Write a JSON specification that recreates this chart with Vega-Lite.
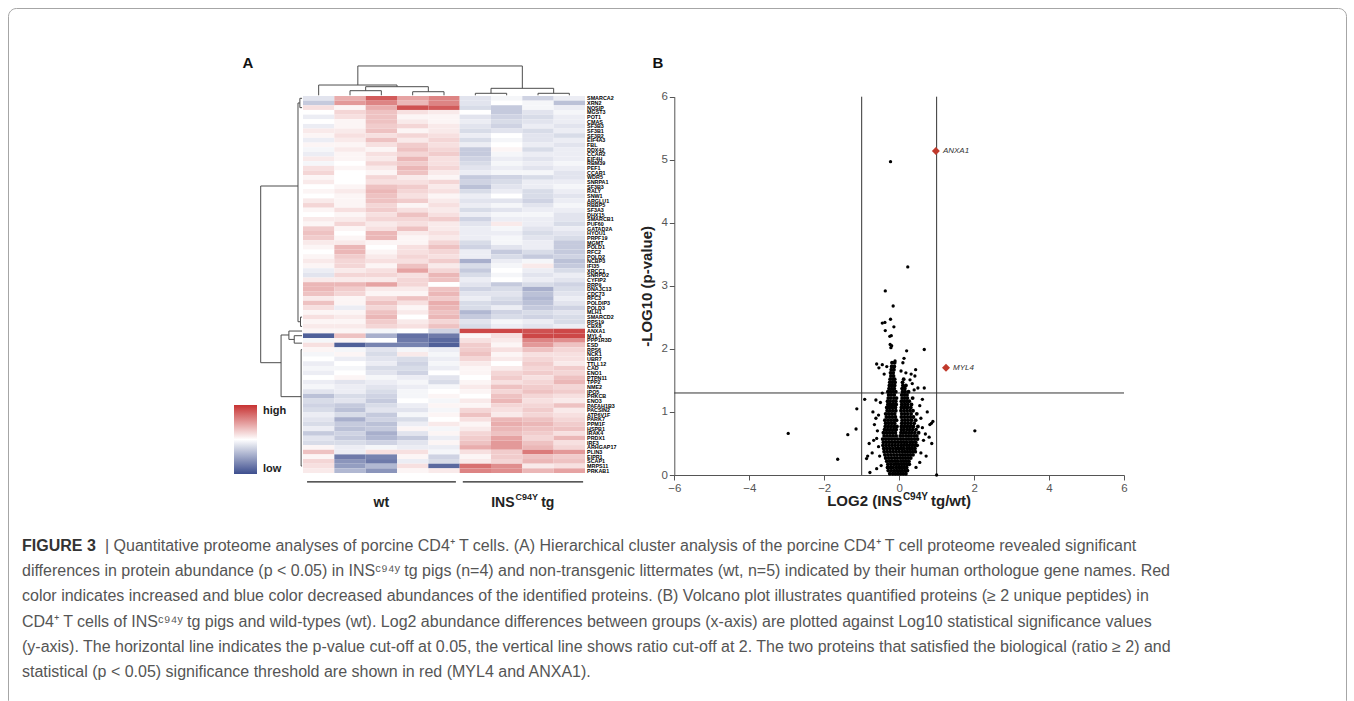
{
"$schema":"https://vega.github.io/schema/vega-lite/v6.json",
"width":1338,"height":700,
"autosize":{"type":"none"},
"padding":{"left":8,"top":8,"right":8,"bottom":0},
"background":"#ffffff",
"config":{"view":{"stroke":"#a6a6a6","strokeWidth":1,"cornerRadius":8},"font":"Liberation Sans"},
"datasets":{
"heat":[
{"r":0,"g":"SMARCA2","c1":-0.15,"c2":0.4,"c3":0.8,"c4":0.45,"c5":0.6,"c6":-0.15,"c7":-0.05,"c8":-0.25,"c9":-0.1},
{"r":1,"g":"XRN2","c1":-0.3,"c2":0.5,"c3":0.6,"c4":0.35,"c5":0.6,"c6":-0.15,"c7":0,"c8":-0.05,"c9":-0.35},
{"r":2,"g":"NOSIP","c1":0.15,"c2":0.05,"c3":0.4,"c4":0.85,"c5":0.8,"c6":-0.2,"c7":-0.3,"c8":-0.05,"c9":-0.1},
{"r":3,"g":"MGST3","c1":0,"c2":0.2,"c3":0.3,"c4":0.15,"c5":0.1,"c6":0,"c7":-0.3,"c8":-0.15,"c9":-0.05},
{"r":4,"g":"POT1","c1":-0.1,"c2":0.15,"c3":0.3,"c4":0.05,"c5":0.05,"c6":-0.15,"c7":-0.25,"c8":-0.2,"c9":-0.1},
{"r":5,"g":"CMAS","c1":0,"c2":0.05,"c3":0.3,"c4":0.1,"c5":0.05,"c6":-0.1,"c7":-0.2,"c8":-0.15,"c9":-0.1},
{"r":6,"g":"SF3B3","c1":-0.1,"c2":0.05,"c3":0.25,"c4":0.2,"c5":0.1,"c6":-0.15,"c7":-0.25,"c8":-0.1,"c9":-0.15},
{"r":7,"g":"SF3B1","c1":0.1,"c2":0.1,"c3":0.3,"c4":0.05,"c5":0.1,"c6":-0.2,"c7":-0.15,"c8":-0.2,"c9":-0.1},
{"r":8,"g":"SF3B2","c1":0.05,"c2":0.15,"c3":0.15,"c4":0.2,"c5":0.15,"c6":-0.1,"c7":0,"c8":-0.15,"c9":-0.2},
{"r":9,"g":"EIF4A3","c1":-0.1,"c2":0.1,"c3":0.3,"c4":0.1,"c5":0.2,"c6":-0.2,"c7":-0.05,"c8":-0.15,"c9":-0.1},
{"r":10,"g":"FBL","c1":0.05,"c2":0.05,"c3":0.15,"c4":0.25,"c5":0.15,"c6":-0.1,"c7":0,"c8":-0.1,"c9":-0.15},
{"r":11,"g":"DDX42","c1":-0.05,"c2":0.1,"c3":0.05,"c4":0.3,"c5":0.2,"c6":-0.3,"c7":0.05,"c8":-0.2,"c9":-0.1},
{"r":12,"g":"CCAR2","c1":-0.1,"c2":0.05,"c3":0.15,"c4":0.2,"c5":0.25,"c6":-0.3,"c7":-0.05,"c8":-0.1,"c9":-0.1},
{"r":13,"g":"EIF4H","c1":0.1,"c2":0.05,"c3":0.1,"c4":0.35,"c5":0.15,"c6":-0.25,"c7":-0.1,"c8":-0.15,"c9":-0.1},
{"r":14,"g":"RBM39","c1":-0.05,"c2":0,"c3":0.2,"c4":0.25,"c5":0.15,"c6":-0.2,"c7":-0.05,"c8":-0.1,"c9":-0.05},
{"r":15,"g":"PEF1","c1":0.15,"c2":0.05,"c3":0.1,"c4":0.35,"c5":0.2,"c6":-0.15,"c7":-0.1,"c8":-0.15,"c9":-0.1},
{"r":16,"g":"CCAR1","c1":0.2,"c2":0,"c3":0.05,"c4":0.3,"c5":0.1,"c6":-0.1,"c7":-0.05,"c8":-0.05,"c9":-0.15},
{"r":17,"g":"WDR5","c1":0.05,"c2":0,"c3":0.2,"c4":0.1,"c5":0.05,"c6":-0.3,"c7":-0.25,"c8":-0.2,"c9":-0.15},
{"r":18,"g":"SNRPA1","c1":0.1,"c2":0,"c3":0.15,"c4":0.15,"c5":0.2,"c6":-0.25,"c7":-0.2,"c8":-0.1,"c9":-0.1},
{"r":19,"g":"SF3B3","c1":0,"c2":0.05,"c3":0.3,"c4":0.25,"c5":0.1,"c6":-0.35,"c7":-0.15,"c8":-0.1,"c9":-0.05},
{"r":20,"g":"RALY","c1":0.05,"c2":0.1,"c3":0.35,"c4":0.2,"c5":0.15,"c6":-0.2,"c7":-0.1,"c8":-0.2,"c9":-0.1},
{"r":21,"g":"SNW1","c1":0,"c2":0.05,"c3":0.3,"c4":0.15,"c5":0.05,"c6":-0.1,"c7":0,"c8":-0.2,"c9":-0.15},
{"r":22,"g":"ARGLU1","c1":0.1,"c2":0.05,"c3":0.3,"c4":0.25,"c5":0.1,"c6":-0.15,"c7":-0.15,"c8":-0.25,"c9":-0.1},
{"r":23,"g":"RBBP5","c1":0.2,"c2":0.05,"c3":0.2,"c4":0.05,"c5":0.15,"c6":-0.1,"c7":-0.05,"c8":-0.15,"c9":-0.05},
{"r":24,"g":"SF3A3","c1":0.05,"c2":0.15,"c3":0.25,"c4":0.15,"c5":0.1,"c6":-0.2,"c7":-0.15,"c8":-0.1,"c9":-0.1},
{"r":25,"g":"DHX15","c1":0,"c2":0.05,"c3":0.15,"c4":0.3,"c5":0.15,"c6":-0.1,"c7":-0.05,"c8":-0.05,"c9":-0.15},
{"r":26,"g":"SMARCB1","c1":0.1,"c2":0.1,"c3":0.2,"c4":0.2,"c5":0.25,"c6":-0.25,"c7":-0.1,"c8":-0.1,"c9":-0.15},
{"r":27,"g":"PUF60","c1":0.05,"c2":0.2,"c3":0.1,"c4":0.15,"c5":0.1,"c6":-0.15,"c7":0.1,"c8":-0.1,"c9":-0.2},
{"r":28,"g":"GATAD2A","c1":0.25,"c2":0.05,"c3":0.15,"c4":0.3,"c5":0.1,"c6":-0.1,"c7":-0.05,"c8":-0.15,"c9":-0.1},
{"r":29,"g":"HYOU1","c1":0.3,"c2":0,"c3":0.35,"c4":0.1,"c5":0.15,"c6":-0.1,"c7":-0.1,"c8":-0.2,"c9":-0.15},
{"r":30,"g":"PRPF19","c1":0.25,"c2":0.05,"c3":0.35,"c4":0.05,"c5":0.1,"c6":-0.1,"c7":-0.05,"c8":-0.15,"c9":-0.2},
{"r":31,"g":"MGMT","c1":0.1,"c2":0.1,"c3":0.05,"c4":0.05,"c5":0.2,"c6":-0.2,"c7":-0.05,"c8":-0.1,"c9":-0.3},
{"r":32,"g":"POLD1","c1":0.05,"c2":0.35,"c3":0,"c4":0.15,"c5":0.3,"c6":-0.25,"c7":-0.15,"c8":-0.1,"c9":-0.3},
{"r":33,"g":"RFC2","c1":0,"c2":0.35,"c3":0.05,"c4":0.15,"c5":0.2,"c6":-0.1,"c7":-0.3,"c8":-0.2,"c9":-0.3},
{"r":34,"g":"POLD2","c1":0.05,"c2":0.25,"c3":0.1,"c4":0.2,"c5":0.15,"c6":-0.1,"c7":-0.2,"c8":-0.3,"c9":-0.25},
{"r":35,"g":"NCBP3","c1":0.1,"c2":0.2,"c3":0.15,"c4":0.15,"c5":0.25,"c6":-0.45,"c7":-0.1,"c8":-0.05,"c9":-0.35},
{"r":36,"g":"IFI35","c1":0.05,"c2":0.2,"c3":0.05,"c4":0.3,"c5":0.1,"c6":-0.2,"c7":-0.05,"c8":0.1,"c9":-0.3},
{"r":37,"g":"XRCC1","c1":-0.1,"c2":0.1,"c3":0.15,"c4":0.45,"c5":0.2,"c6":-0.3,"c7":0,"c8":-0.1,"c9":-0.2},
{"r":38,"g":"SNRPD2","c1":-0.15,"c2":0.2,"c3":0.2,"c4":0.15,"c5":0.35,"c6":-0.2,"c7":-0.05,"c8":-0.15,"c9":-0.1},
{"r":39,"g":"CYFIP2","c1":0.1,"c2":0.1,"c3":0.1,"c4":0.2,"c5":0.3,"c6":-0.1,"c7":0,"c8":-0.1,"c9":-0.15},
{"r":40,"g":"RRP9","c1":0.35,"c2":0.35,"c3":0.45,"c4":0.2,"c5":0,"c6":-0.15,"c7":-0.3,"c8":-0.2,"c9":-0.25},
{"r":41,"g":"DNAJC13","c1":0.35,"c2":0.25,"c3":0.1,"c4":0.1,"c5":0.3,"c6":-0.25,"c7":-0.2,"c8":-0.45,"c9":-0.2},
{"r":42,"g":"CDC73","c1":0.3,"c2":0.2,"c3":0.05,"c4":0.05,"c5":0.35,"c6":-0.15,"c7":-0.15,"c8":-0.35,"c9":-0.15},
{"r":43,"g":"RFC3","c1":0.1,"c2":0.05,"c3":0.2,"c4":0.3,"c5":0.25,"c6":-0.1,"c7":-0.2,"c8":-0.4,"c9":-0.1},
{"r":44,"g":"POLDIP3","c1":0.3,"c2":0.05,"c3":0.3,"c4":0.15,"c5":0.4,"c6":-0.2,"c7":-0.25,"c8":-0.35,"c9":-0.15},
{"r":45,"g":"POLD3","c1":0.15,"c2":-0.1,"c3":0.2,"c4":0.05,"c5":0.35,"c6":-0.2,"c7":-0.1,"c8":-0.3,"c9":-0.25},
{"r":46,"g":"MLH1","c1":0.05,"c2":0.05,"c3":0.3,"c4":0.1,"c5":0.3,"c6":-0.4,"c7":-0.25,"c8":-0.2,"c9":-0.15},
{"r":47,"g":"SMARCD2","c1":0.15,"c2":0.1,"c3":0.35,"c4":0,"c5":0.35,"c6":-0.3,"c7":-0.2,"c8":-0.25,"c9":-0.2},
{"r":48,"g":"RPS19","c1":0.05,"c2":0.05,"c3":0.25,"c4":0.1,"c5":0.2,"c6":-0.15,"c7":-0.05,"c8":-0.1,"c9":-0.2},
{"r":49,"g":"CBX8","c1":0.1,"c2":0.1,"c3":0.2,"c4":0.15,"c5":0.3,"c6":-0.2,"c7":-0.1,"c8":-0.15,"c9":-0.1},
{"r":50,"g":"ANXA1","c1":0.05,"c2":0.05,"c3":-0.05,"c4":0,"c5":-0.25,"c6":0.9,"c7":0.9,"c8":0.85,"c9":0.9},
{"r":51,"g":"MYL4","c1":-0.9,"c2":0.3,"c3":-0.45,"c4":-0.8,"c5":-0.75,"c6":0.05,"c7":0.15,"c8":0.9,"c9":0.9},
{"r":52,"g":"PPP1R3D","c1":-0.05,"c2":0.05,"c3":0,"c4":-0.75,"c5":-0.85,"c6":0.15,"c7":0.1,"c8":0.6,"c9":0.55},
{"r":53,"g":"ESD","c1":0.15,"c2":-0.9,"c3":-0.7,"c4":-0.7,"c5":-0.9,"c6":0.25,"c7":0.05,"c8":0.5,"c9":0.3},
{"r":54,"g":"RPS6","c1":0.05,"c2":-0.05,"c3":-0.15,"c4":-0.05,"c5":-0.1,"c6":0.25,"c7":0.15,"c8":0.3,"c9":0.2},
{"r":55,"g":"NCK1","c1":-0.05,"c2":0.05,"c3":-0.2,"c4":0.1,"c5":-0.05,"c6":0.3,"c7":0.05,"c8":0.15,"c9":0.15},
{"r":56,"g":"UBR7","c1":0,"c2":-0.1,"c3":-0.15,"c4":-0.2,"c5":-0.1,"c6":0.2,"c7":0.1,"c8":0.2,"c9":0.15},
{"r":57,"g":"TTLL12","c1":-0.1,"c2":0,"c3":-0.1,"c4":-0.25,"c5":-0.05,"c6":0.1,"c7":0,"c8":0.25,"c9":0.1},
{"r":58,"g":"CAD","c1":-0.05,"c2":-0.05,"c3":-0.2,"c4":-0.2,"c5":-0.1,"c6":0.05,"c7":0.1,"c8":0.2,"c9":0.25},
{"r":59,"g":"ENO1","c1":-0.1,"c2":0,"c3":-0.15,"c4":-0.25,"c5":0,"c6":0.05,"c7":0.2,"c8":0.25,"c9":0.2},
{"r":60,"g":"PTPN11","c1":0,"c2":0.05,"c3":-0.05,"c4":-0.1,"c5":-0.15,"c6":0,"c7":0.25,"c8":0.15,"c9":0.3},
{"r":61,"g":"TPP2","c1":-0.1,"c2":-0.15,"c3":-0.1,"c4":-0.05,"c5":-0.2,"c6":0.05,"c7":0.15,"c8":0.2,"c9":0.35},
{"r":62,"g":"NME2","c1":-0.05,"c2":-0.1,"c3":-0.15,"c4":-0.1,"c5":-0.05,"c6":0.1,"c7":0.3,"c8":0.25,"c9":0.2},
{"r":63,"g":"IPO5","c1":-0.15,"c2":-0.1,"c3":-0.2,"c4":-0.05,"c5":0,"c6":0.05,"c7":0.2,"c8":0.3,"c9":0.25},
{"r":64,"g":"PRKCB","c1":-0.35,"c2":-0.2,"c3":-0.25,"c4":-0.05,"c5":0.05,"c6":0,"c7":0.3,"c8":0.2,"c9":0.15},
{"r":65,"g":"ENO3","c1":-0.2,"c2":-0.15,"c3":-0.3,"c4":0,"c5":-0.05,"c6":0.1,"c7":0.35,"c8":0.15,"c9":0.1},
{"r":66,"g":"PAFAH1B3","c1":-0.25,"c2":-0.3,"c3":-0.2,"c4":-0.1,"c5":0.05,"c6":0.05,"c7":0.2,"c8":0.2,"c9":0.3},
{"r":67,"g":"PACSIN2","c1":-0.2,"c2":-0.35,"c3":-0.15,"c4":-0.15,"c5":-0.05,"c6":0.2,"c7":0.15,"c8":0.25,"c9":0.1},
{"r":68,"g":"ATP6V1F","c1":-0.1,"c2":-0.2,"c3":-0.3,"c4":-0.05,"c5":0.05,"c6":0.3,"c7":0.1,"c8":0.2,"c9":0.15},
{"r":69,"g":"PARK7","c1":-0.15,"c2":-0.45,"c3":-0.25,"c4":-0.2,"c5":0,"c6":0.15,"c7":0.35,"c8":0.3,"c9":0.2},
{"r":70,"g":"PPM1F","c1":-0.2,"c2":-0.3,"c3":-0.35,"c4":-0.1,"c5":0.1,"c6":0.05,"c7":0.4,"c8":0.35,"c9":0.25},
{"r":71,"g":"HSPB1","c1":-0.1,"c2":-0.35,"c3":-0.3,"c4":0.05,"c5":-0.05,"c6":0.1,"c7":0.35,"c8":0.3,"c9":0.3},
{"r":72,"g":"IRAK4","c1":-0.3,"c2":-0.25,"c3":-0.45,"c4":-0.15,"c5":0.05,"c6":0.2,"c7":0.3,"c8":0.25,"c9":0.15},
{"r":73,"g":"PRDX1","c1":-0.15,"c2":-0.3,"c3":-0.4,"c4":-0.3,"c5":-0.1,"c6":0.25,"c7":0.45,"c8":0.2,"c9":0.35},
{"r":74,"g":"IRF3","c1":-0.2,"c2":-0.2,"c3":-0.25,"c4":-0.15,"c5":0.05,"c6":0.3,"c7":0.5,"c8":0.3,"c9":0.15},
{"r":75,"g":"ARHGAP17","c1":0.05,"c2":-0.1,"c3":-0.05,"c4":-0.1,"c5":-0.1,"c6":0.4,"c7":0.5,"c8":0.35,"c9":0.2},
{"r":76,"g":"PLIN3","c1":0.3,"c2":-0.1,"c3":0.15,"c4":0.15,"c5":-0.05,"c6":0.15,"c7":0.25,"c8":0.65,"c9":0.5},
{"r":77,"g":"EIPR1","c1":0.05,"c2":-0.75,"c3":-0.7,"c4":0.05,"c5":-0.25,"c6":0.05,"c7":0.25,"c8":0.3,"c9":0.25},
{"r":78,"g":"SCAP1","c1":0.2,"c2":-0.6,"c3":-0.75,"c4":-0.1,"c5":-0.2,"c6":0.1,"c7":0.2,"c8":0.35,"c9":0.3},
{"r":79,"g":"MRPS11","c1":0.15,"c2":-0.55,"c3":-0.4,"c4":0.15,"c5":-0.85,"c6":0.7,"c7":0.55,"c8":0.1,"c9":0.15},
{"r":80,"g":"PRKAB1","c1":0.1,"c2":-0.4,"c3":-0.6,"c4":0.05,"c5":0.1,"c6":0.6,"c7":0.55,"c8":0.35,"c9":0.45}
],
"dendro":[
{"x1":1.75,"x2":7,"y1":-6.45,"y2":-6.45},
{"x1":1.75,"x2":1.75,"y1":-6.45,"y2":-2.36},
{"x1":7,"x2":7,"y1":-6.45,"y2":-1.65},
{"x1":0.5,"x2":3,"y1":-2.36,"y2":-2.36},
{"x1":0.5,"x2":0.5,"y1":-2.36,"y2":-0.15},
{"x1":3,"x2":3,"y1":-2.36,"y2":-2},
{"x1":2,"x2":4,"y1":-2,"y2":-2},
{"x1":2,"x2":2,"y1":-2,"y2":-1.14},
{"x1":4,"x2":4,"y1":-2,"y2":-0.92},
{"x1":1.5,"x2":2.5,"y1":-1.14,"y2":-1.14},
{"x1":1.5,"x2":1.5,"y1":-1.14,"y2":-0.15},
{"x1":2.5,"x2":2.5,"y1":-1.14,"y2":-0.15},
{"x1":3.5,"x2":4.5,"y1":-0.92,"y2":-0.92},
{"x1":3.5,"x2":3.5,"y1":-0.92,"y2":-0.15},
{"x1":4.5,"x2":4.5,"y1":-0.92,"y2":-0.15},
{"x1":6,"x2":8,"y1":-1.65,"y2":-1.65},
{"x1":6,"x2":6,"y1":-1.65,"y2":-0.58},
{"x1":8,"x2":8,"y1":-1.65,"y2":-0.58},
{"x1":5.5,"x2":6.5,"y1":-0.58,"y2":-0.58},
{"x1":5.5,"x2":5.5,"y1":-0.58,"y2":-0.15},
{"x1":6.5,"x2":6.5,"y1":-0.58,"y2":-0.15},
{"x1":7.5,"x2":8.5,"y1":-0.58,"y2":-0.58},
{"x1":7.5,"x2":7.5,"y1":-0.58,"y2":-0.15},
{"x1":8.5,"x2":8.5,"y1":-0.58,"y2":-0.15},
{"x1":-1.35,"x2":-1.35,"y1":19.34,"y2":57.3},
{"x1":-1.35,"x2":-0.16,"y1":19.34,"y2":19.34},
{"x1":-1.35,"x2":-0.7,"y1":57.3,"y2":57.3},
{"x1":-0.16,"x2":-0.16,"y1":1.5,"y2":48.5},
{"x1":-0.16,"x2":-0.1,"y1":1.5,"y2":1.5},
{"x1":-0.1,"x2":-0.1,"y1":0.5,"y2":2.5},
{"x1":-0.1,"x2":-0.03,"y1":0.5,"y2":0.5},
{"x1":-0.1,"x2":-0.03,"y1":2.5,"y2":2.5},
{"x1":-0.16,"x2":-0.08,"y1":48.5,"y2":48.5},
{"x1":-0.08,"x2":-0.08,"y1":47.5,"y2":49.5},
{"x1":-0.08,"x2":-0.03,"y1":47.5,"y2":47.5},
{"x1":-0.08,"x2":-0.03,"y1":49.5,"y2":49.5},
{"x1":-0.7,"x2":-0.7,"y1":51.35,"y2":64.6},
{"x1":-0.7,"x2":-0.45,"y1":51.35,"y2":51.35},
{"x1":-0.45,"x2":-0.45,"y1":50.5,"y2":52.3},
{"x1":-0.45,"x2":-0.03,"y1":50.5,"y2":50.5},
{"x1":-0.45,"x2":-0.28,"y1":52.3,"y2":52.3},
{"x1":-0.28,"x2":-0.28,"y1":51.5,"y2":53.1},
{"x1":-0.28,"x2":-0.03,"y1":51.5,"y2":51.5},
{"x1":-0.28,"x2":-0.03,"y1":53.1,"y2":53.1},
{"x1":-0.7,"x2":-0.06,"y1":64.6,"y2":64.6},
{"x1":-0.06,"x2":-0.06,"y1":54.5,"y2":79.5},
{"x1":-0.06,"x2":-0.03,"y1":54.5,"y2":54.5},
{"x1":-0.06,"x2":-0.03,"y1":79.5,"y2":79.5}
],
"groups":[{"grp":"wt","c0":0.13,"c1":4.88},{"grp":"tg","c0":5.1,"c1":8.94}],
"vcore":[
{"y":0.02,"x":[-0.25,-0.17,-0.10,-0.03,0.04,0.11,0.18]},
{"y":0.07,"x":[-0.29,-0.21,-0.13,-0.06,0.01,0.08,0.15,0.22]},
{"y":0.12,"x":[-0.31,-0.23,-0.16,-0.08,-0.01,0.06,0.13,0.20]},
{"y":0.17,"x":[-0.30,-0.22,-0.14,-0.07,0.00,0.07,0.14,0.21,0.27]},
{"y":0.22,"x":[-0.33,-0.25,-0.18,-0.10,-0.03,0.05,0.12,0.19,0.26]},
{"y":0.27,"x":[-0.36,-0.28,-0.20,-0.12,-0.05,0.03,0.10,0.17,0.24,0.31]},
{"y":0.32,"x":[-0.38,-0.30,-0.22,-0.14,-0.06,0.02,0.09,0.16,0.23,0.30,0.37]},
{"y":0.37,"x":[-0.40,-0.32,-0.24,-0.16,-0.08,0.00,0.08,0.15,0.22,0.29,0.36,0.43]},
{"y":0.42,"x":[-0.41,-0.33,-0.25,-0.17,-0.09,-0.02,0.06,0.13,0.21,0.28,0.35,0.42]},
{"y":0.47,"x":[-0.43,-0.35,-0.27,-0.19,-0.11,-0.03,0.05,0.12,0.20,0.27,0.34,0.41,0.48]},
{"y":0.52,"x":[-0.42,-0.34,-0.26,-0.18,-0.10,-0.02,0.06,0.14,0.21,0.29,0.36,0.44]},
{"y":0.57,"x":[-0.44,-0.36,-0.28,-0.20,-0.12,-0.04,0.04,0.11,0.19,0.26,0.33,0.41,0.49]},
{"y":0.62,"x":[-0.40,-0.32,-0.24,-0.16,-0.08,0.03,0.10,0.18,0.25,0.32,0.40,0.47]},
{"y":0.67,"x":[-0.42,-0.34,-0.26,-0.18,-0.10,0.05,0.12,0.19,0.27,0.34,0.42,0.52]},
{"y":0.72,"x":[-0.39,-0.31,-0.23,-0.15,-0.08,0.06,0.13,0.21,0.28,0.36,0.45]},
{"y":0.77,"x":[-0.37,-0.29,-0.21,-0.13,-0.06,0.06,0.14,0.22,0.30,0.38,0.50]},
{"y":0.82,"x":[-0.36,-0.28,-0.20,-0.12,0.07,0.15,0.23,0.31,0.40]},
{"y":0.87,"x":[-0.38,-0.30,-0.22,-0.14,-0.07,0.08,0.16,0.24,0.33,0.44]},
{"y":0.92,"x":[-0.34,-0.26,-0.18,-0.10,0.06,0.14,0.22,0.30,0.38]},
{"y":0.97,"x":[-0.36,-0.28,-0.20,-0.12,0.07,0.15,0.23,0.32,0.47]},
{"y":1.02,"x":[-0.32,-0.25,-0.17,-0.09,0.05,0.13,0.21,0.29,0.37]},
{"y":1.07,"x":[-0.33,-0.26,-0.18,-0.10,0.06,0.14,0.22,0.31]},
{"y":1.12,"x":[-0.30,-0.23,-0.15,-0.08,0.07,0.15,0.23,0.33]},
{"y":1.17,"x":[-0.31,-0.24,-0.16,-0.09,0.06,0.13,0.20,0.27]},
{"y":1.22,"x":[-0.29,-0.22,-0.14,-0.07,0.08,0.15,0.22,0.36]},
{"y":1.27,"x":[-0.28,-0.21,-0.13,0.07,0.14,0.21]},
{"y":1.32,"x":[-0.30,-0.23,-0.16,-0.09,0.09,0.16,0.25]},
{"y":1.37,"x":[-0.27,-0.20,-0.13,0.08,0.15]},
{"y":1.42,"x":[-0.26,-0.19,-0.12,0.10,0.18]},
{"y":1.47,"x":[-0.25,-0.18,-0.11,0.09]},
{"y":1.52,"x":[-0.24,-0.17,-0.12,0.12]},
{"y":1.57,"x":[-0.22,-0.15]},
{"y":1.62,"x":[-0.23,-0.16]},
{"y":1.67,"x":[-0.21,-0.14]},
{"y":1.72,"x":[-0.20,-0.13]},
{"y":1.78,"x":[-0.19,-0.12]}
],
"vout":[
{"x":-2.96,"y":0.66},{"x":-1.64,"y":0.25},{"x":-1.37,"y":0.64},{"x":-1.13,"y":1.05},{"x":-1.15,"y":0.73},{"x":2.02,"y":0.70},{"x":1.00,"y":0.00},{"x":-0.92,"y":1.20},{"x":-0.78,"y":0.04},{"x":-0.87,"y":0.26},{"x":-0.84,"y":0.30},{"x":-0.62,"y":1.19},{"x":-0.70,"y":1.00},{"x":0.86,"y":0.82},{"x":0.82,"y":0.80},{"x":0.87,"y":0.50},{"x":0.67,"y":1.38},{"x":0.50,"y":1.38},{"x":0.44,"y":1.67},{"x":0.42,"y":1.57},{"x":0.29,"y":1.51},{"x":0.15,"y":1.40},{"x":0.40,"y":1.35},{"x":-0.23,"y":4.97},{"x":0.23,"y":3.30},{"x":-0.37,"y":2.92},{"x":-0.16,"y":2.68},{"x":-0.45,"y":2.41},{"x":-0.38,"y":2.42},{"x":-0.23,"y":2.47},{"x":-0.37,"y":2.29},{"x":-0.14,"y":2.35},{"x":-0.25,"y":2.20},{"x":-0.21,"y":2.21},{"x":-0.24,"y":2.07},{"x":-0.20,"y":2.05},{"x":-0.22,"y":2.02},{"x":-0.11,"y":1.81},{"x":0.20,"y":1.97},{"x":0.67,"y":1.99},{"x":0.13,"y":1.85},{"x":0.10,"y":1.78},{"x":-0.60,"y":1.76},{"x":-0.45,"y":1.75},{"x":-0.54,"y":1.70},{"x":-0.33,"y":1.72},{"x":-0.40,"y":1.60},{"x":0.05,"y":1.65},{"x":0.18,"y":1.62},{"x":0.32,"y":1.60},{"x":-0.55,"y":0.95},{"x":-0.62,"y":0.90},{"x":-0.66,"y":0.80},{"x":-0.58,"y":0.70},{"x":-0.60,"y":0.58},{"x":-0.55,"y":0.45},{"x":-0.52,"y":0.30},{"x":-0.68,"y":0.55},{"x":0.58,"y":0.90},{"x":0.62,"y":0.75},{"x":0.70,"y":0.65},{"x":0.65,"y":0.55},{"x":0.58,"y":0.35},{"x":0.55,"y":1.10},{"x":0.62,"y":1.20},{"x":0.75,"y":1.00},{"x":-0.50,"y":1.15},{"x":-0.45,"y":1.30},{"x":0.35,"y":1.45},{"x":-0.72,"y":0.35},{"x":0.72,"y":0.30},{"x":0.90,"y":0.85},{"x":0.45,"y":0.12},{"x":0.80,"y":0.60},{"x":-0.80,"y":0.50},{"x":0.55,"y":0.20},{"x":-0.60,"y":0.10},{"x":-0.48,"y":0.15}
],
"sig":[{"gene":"ANXA1","x":0.98,"y":5.14},{"gene":"MYL4","x":1.25,"y":1.70}],
"cap":[
{"line":0,"seg":"lead","t":"FIGURE 3"},
{"line":0,"seg":"rest","t":"| Quantitative proteome analyses of porcine CD4⁺ T cells. (A) Hierarchical cluster analysis of the porcine CD4⁺ T cell proteome revealed significant"},
{"line":1,"seg":"body","t":"differences in protein abundance (p < 0.05) in INSᶜ⁹⁴ʸ tg pigs (n=4) and non-transgenic littermates (wt, n=5) indicated by their human orthologue gene names. Red"},
{"line":2,"seg":"body","t":"color indicates increased and blue color decreased abundances of the identified proteins. (B) Volcano plot illustrates quantified proteins (≥ 2 unique peptides) in"},
{"line":3,"seg":"body","t":"CD4⁺ T cells of INSᶜ⁹⁴ʸ tg pigs and wild-types (wt). Log2 abundance differences between groups (x-axis) are plotted against Log10 statistical significance values"},
{"line":4,"seg":"body","t":"(y-axis). The horizontal line indicates the p-value cut-off at 0.05, the vertical line shows ratio cut-off at 2. The two proteins that satisfied the biological (ratio ≥ 2) and"},
{"line":5,"seg":"body","t":"statistical (p < 0.05) significance threshold are shown in red (MYL4 and ANXA1)."}
]
},
"layer":[
{
"data":{"name":"heat"},
"layer":[
{"transform":[{"fold":["c1","c2","c3","c4","c5","c6","c7","c8","c9"],"as":["col","val"]}],
"mark":{"type":"rect","strokeWidth":0},
"encoding":{
"x":{"field":"col","type":"nominal","scale":{"domain":["c1","c2","c3","c4","c5","c6","c7","c8","c9"],"range":[295,577],"paddingInner":0,"paddingOuter":0},"axis":null},
"y":{"field":"r","type":"ordinal","scale":{"range":[88,465],"paddingInner":0,"paddingOuter":0},"axis":null},
"color":{"field":"val","type":"quantitative","scale":{"domain":[-1,0,1],"range":["#3d4e8e","#ffffff","#c73232"],"interpolate":"rgb"},
"legend":{"orient":"none","legendX":226,"legendY":397,"direction":"vertical","gradientLength":69,"gradientThickness":23,"title":null,"values":[-1,1],"labelExpr":"datum.value > 0 ? 'high' : 'low'","labelFontSize":11,"labelFontWeight":"bold","labelColor":"#222","labelOffset":6,"gradientStrokeWidth":0,"padding":0}}
}},
{"mark":{"type":"text","align":"left","baseline":"middle","dx":17.7,"fontSize":5.4,"fontWeight":"bold","color":"#000"},
"encoding":{"x":{"datum":"c9","type":"nominal"},"y":{"field":"r","type":"ordinal"},"text":{"field":"g"}}}
]
},
{
"layer":[
{"data":{"name":"dendro"},"mark":{"type":"rule","color":"#4d4d4d","strokeWidth":1},
"encoding":{
"x":{"field":"x1","type":"quantitative","scale":{"domain":[0,9],"range":[295,577],"nice":false,"zero":false},"axis":null},
"x2":{"field":"x2"},
"y":{"field":"y1","type":"quantitative","scale":{"domain":[0,81],"range":[88,465],"nice":false,"zero":false},"axis":null},
"y2":{"field":"y2"}}},
{"data":{"name":"groups"},"mark":{"type":"rule","color":"#222","strokeWidth":1.3},
"encoding":{"x":{"field":"c0","type":"quantitative"},"x2":{"field":"c1"},"y":{"datum":82.9,"type":"quantitative"}}},
{"data":{"values":[{}]},"mark":{"type":"text","text":"wt","fontSize":14,"fontWeight":"bold","align":"center","baseline":"alphabetic","color":"#222"},
"encoding":{"x":{"datum":2.5,"type":"quantitative"},"y":{"datum":88.3,"type":"quantitative"}}},
{"data":{"values":[{}]},"mark":{"type":"text","text":"INS","fontSize":14,"fontWeight":"bold","align":"right","baseline":"alphabetic","color":"#222"},
"encoding":{"x":{"datum":6.75,"type":"quantitative"},"y":{"datum":88.3,"type":"quantitative"}}},
{"data":{"values":[{}]},"mark":{"type":"text","text":"C94Y","fontSize":9,"fontWeight":"bold","align":"left","baseline":"alphabetic","color":"#222"},
"encoding":{"x":{"datum":6.78,"type":"quantitative"},"y":{"datum":86.8,"type":"quantitative"}}},
{"data":{"values":[{}]},"mark":{"type":"text","text":"tg","fontSize":14,"fontWeight":"bold","align":"left","baseline":"alphabetic","color":"#222"},
"encoding":{"x":{"datum":7.6,"type":"quantitative"},"y":{"datum":88.3,"type":"quantitative"}}},
{"data":{"values":[{}]},"mark":{"type":"text","text":"A","fontSize":15,"fontWeight":"bold","align":"center","baseline":"middle","color":"#111"},
"encoding":{"x":{"datum":-1.755,"type":"quantitative"},"y":{"datum":-7.09,"type":"quantitative"}}}
]
},
{
"layer":[
{"data":{"values":[{"v":-1},{"v":1}]},"mark":{"type":"rule","color":"#333","strokeWidth":1},
"encoding":{
"x":{"field":"v","type":"quantitative","scale":{"domain":[-6,6],"range":[666.3,1116],"nice":false,"zero":false},
"axis":{"orient":"bottom","offset":-233,"values":[-6,-4,-2,0,2,4,6],"format":"d","grid":false,"title":null,"tickSize":5,"tickColor":"#555","domainColor":"#555","labelColor":"#555","labelFontSize":11.5,"labelPadding":2,"labelFlush":false}},
"y":{"datum":0,"type":"quantitative","scale":{"domain":[0,6],"range":[467,88.7],"nice":false,"zero":false},
"axis":{"orient":"left","offset":-666.3,"values":[0,1,2,3,4,5,6],"format":"d","grid":false,"title":"-LOG10 (p-value)","titleFontSize":15,"titleFontWeight":"bold","titleColor":"#222","titlePadding":6,"tickSize":5,"tickColor":"#555","domainColor":"#555","labelColor":"#555","labelFontSize":11.5,"labelPadding":2}},
"y2":{"datum":6}}},
{"data":{"values":[{}]},"mark":{"type":"rule","color":"#333","strokeWidth":1},
"encoding":{"y":{"datum":1.301,"type":"quantitative"},"x":{"datum":-6,"type":"quantitative"},"x2":{"datum":6}}},
{"data":{"name":"vcore"},"transform":[{"flatten":["x"]}],"mark":{"type":"circle","size":15,"color":"#000","opacity":1},
"encoding":{"x":{"field":"x","type":"quantitative"},"y":{"field":"y","type":"quantitative"}}},
{"data":{"name":"vout"},"mark":{"type":"circle","size":11,"color":"#000","opacity":1},
"encoding":{"x":{"field":"x","type":"quantitative"},"y":{"field":"y","type":"quantitative"}}},
{"data":{"name":"sig"},"mark":{"type":"point","shape":"diamond","filled":true,"size":64,"color":"#c0392b","opacity":1},
"encoding":{"x":{"field":"x","type":"quantitative"},"y":{"field":"y","type":"quantitative"}}},
{"data":{"name":"sig"},"mark":{"type":"text","align":"left","baseline":"middle","dx":7,"fontSize":8,"fontStyle":"italic","color":"#333"},
"encoding":{"x":{"field":"x","type":"quantitative"},"y":{"field":"y","type":"quantitative"},"text":{"field":"gene"}}},
{"data":{"values":[{}]},"mark":{"type":"text","text":"LOG2 (INS","fontSize":15,"fontWeight":"bold","align":"right","baseline":"alphabetic","color":"#222"},
"encoding":{"x":{"datum":0.08,"type":"quantitative"},"y":{"datum":-0.49,"type":"quantitative"}}},
{"data":{"values":[{}]},"mark":{"type":"text","text":"C94Y","fontSize":10,"fontWeight":"bold","align":"left","baseline":"alphabetic","color":"#222"},
"encoding":{"x":{"datum":0.1,"type":"quantitative"},"y":{"datum":-0.39,"type":"quantitative"}}},
{"data":{"values":[{}]},"mark":{"type":"text","text":"tg/wt)","fontSize":15,"fontWeight":"bold","align":"left","baseline":"alphabetic","color":"#222"},
"encoding":{"x":{"datum":0.85,"type":"quantitative"},"y":{"datum":-0.49,"type":"quantitative"}}},
{"data":{"values":[{}]},"mark":{"type":"text","text":"B","fontSize":15,"fontWeight":"bold","align":"center","baseline":"middle","color":"#111"},
"encoding":{"x":{"datum":-6.44,"type":"quantitative"},"y":{"datum":6.54,"type":"quantitative"}}}
]
},
{
"data":{"name":"cap"},
"layer":[
{"transform":[{"filter":"datum.seg == 'body'"}],
"mark":{"type":"text","align":"left","baseline":"middle","fontSize":16,"font":"Liberation Sans","color":"#555"},
"encoding":{
"x":{"datum":0,"type":"quantitative","scale":{"domain":[0,1],"range":[14,1338],"nice":false,"zero":false},"axis":null},
"y":{"field":"line","type":"quantitative","scale":{"domain":[0,5],"range":[538,664],"nice":false,"zero":false},"axis":null},
"text":{"field":"t"}}},
{"transform":[{"filter":"datum.seg == 'lead'"}],
"mark":{"type":"text","align":"left","baseline":"middle","fontSize":16,"fontWeight":"bold","font":"Liberation Sans","color":"#333"},
"encoding":{"x":{"datum":0,"type":"quantitative"},"y":{"field":"line","type":"quantitative"},"text":{"field":"t"}}},
{"transform":[{"filter":"datum.seg == 'rest'"}],
"mark":{"type":"text","align":"left","baseline":"middle","dx":83,"fontSize":16,"font":"Liberation Sans","color":"#555"},
"encoding":{"x":{"datum":0,"type":"quantitative"},"y":{"field":"line","type":"quantitative"},"text":{"field":"t"}}}
]
}
],
"resolve":{"scale":{"x":"independent","y":"independent","color":"independent"}}
}
